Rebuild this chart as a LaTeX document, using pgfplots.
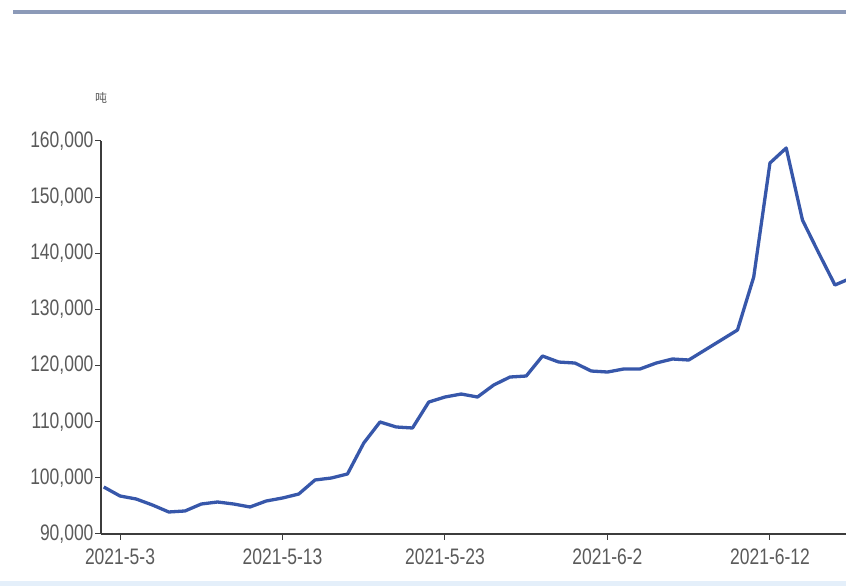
\documentclass[border=0pt]{standalone}
\usepackage{fontspec}
\setmainfont{Liberation Sans}[FakeStretch=0.78]
\newfontfamily\cjk{Noto Sans CJK SC}
\usepackage{pgfplots}
\pgfplotsset{compat=1.18}
\definecolor{linecol}{HTML}{3757AA}
\definecolor{labcol}{HTML}{5A5A5A}
\definecolor{axcol}{HTML}{3C3C3C}
\definecolor{topbar}{HTML}{8C9AB8}
\definecolor{botbar}{HTML}{E4EFFA}
\begin{document}
\begin{tikzpicture}[x=1bp,y=1bp]
\path[use as bounding box] (0,0) rectangle (846,586);
\fill[botbar] (0,0) rectangle (846,5);
\fill[topbar] (13,572) rectangle (846,576);
\node[anchor=base, text=labcol, font=\cjk\fontsize{12}{14}\selectfont] at (101,483) {吨};
\begin{axis}[
  at={(101bp,52bp)}, anchor=south west,
  scale only axis, width=745bp, height=393bp,
  xmin=-0.17, xmax=45.68,
  ymin=90000, ymax=160000,
  axis x line=bottom, axis y line=left,
  axis line style={axcol, line width=1.2bp, -},
  xtick={1,11,21,31,41},
  xticklabels={2021-5-3,2021-5-13,2021-5-23,2021-6-2,2021-6-12},
  ytick={90000,100000,110000,120000,130000,140000,150000,160000},
  yticklabels={{90,000},{100,000},{110,000},{120,000},{130,000},{140,000},{150,000},{160,000}},
  scaled y ticks=false,
  tick align=outside, major tick length=6bp,
  tick style={axcol, line width=1bp},
  tick label style={text=labcol, font=\fontsize{22.5}{26}\selectfont},
  yticklabel style={xshift=2bp},
  xticklabel style={yshift=-5bp},
  clip=true,
]
\addplot[linecol, line width=3.3bp, line join=round] coordinates {
(0,98370) (1,96770) (2,96230) (3,95160) (4,93920) (5,94100) (6,95340)
(7,95700) (8,95340) (9,94810) (10,95880) (11,96410) (12,97120) (13,99620)
(14,99970) (15,100690) (16,106200) (17,109950) (18,109060) (19,108880)
(20,113500) (21,114400) (22,114930) (23,114400) (24,116540) (25,117960)
(26,118140) (27,121700) (28,120630) (29,120450) (30,119030) (31,118850)
(32,119390) (33,119390) (34,120450) (35,121170) (36,120990) (37,122770)
(38,124550) (39,126330) (40,135770) (41,156080) (42,158750) (43,145920)
(44,140050) (45,134350) (46,135600)
};
\end{axis}
\end{tikzpicture}
\end{document}
